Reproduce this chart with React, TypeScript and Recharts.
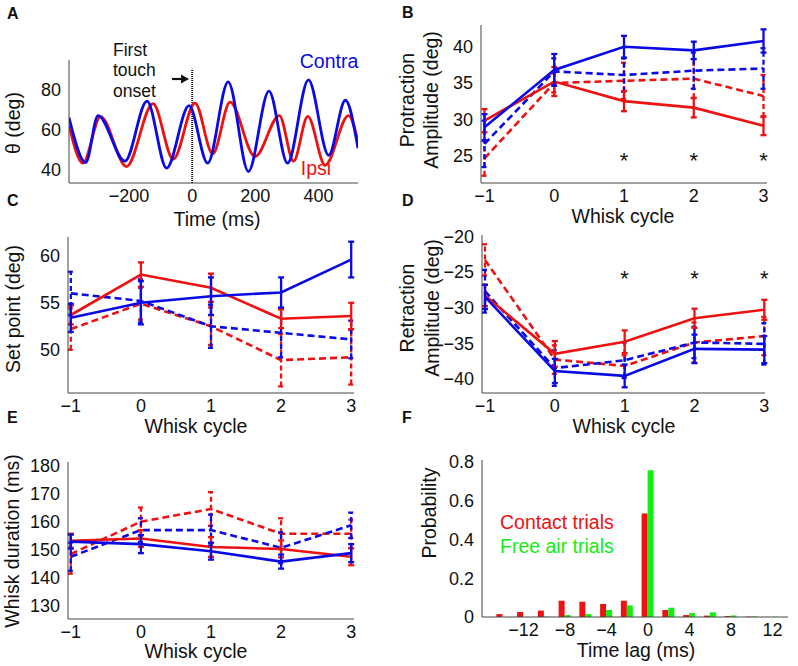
import React from 'react';
import {
  LineChart,
  Line,
  BarChart,
  Bar,
  XAxis,
  YAxis,
  ErrorBar,
  ReferenceLine,
  ReferenceDot
} from 'recharts';

// ---- A: whisker angle trace around first touch ----
const contraTime = [-390, -337, -298, -213, -143, -81, -10, 49, 114, 178, 243, 302, 368, 432, 485, 525];
const contraTheta = [66, 43.3, 67, 44, 74.3, 40.5, 72, 43, 84, 38.8, 79.3, 43, 85, 47, 74.7, 50.5];
const ipsiTime = [-390, -346, -290, -208, -124, -60, 9, 65, 120, 199, 276, 321, 366, 421, 495, 525];
const ipsiTheta = [62.2, 43, 66.5, 41.3, 73, 45, 73.3, 47.7, 73.8, 46.3, 67, 44, 66.6, 42, 67, 53.8];

// ---- B-E: per whisk cycle, mean and error ----
const cycles = [-1, 0, 1, 2, 3];

const protContraTouch = [28.9, 36.8, 40.0, 39.5, 40.8];
const protContraTouchErr = [1.8, 2.2, 1.5, 1.2, 1.6];
const protIpsiTouch = [29.8, 35.2, 32.5, 31.6, 29.1];
const protIpsiTouchErr = [1.6, 2.0, 1.4, 1.35, 1.3];
const protContraFree = [26.6, 36.6, 36.1, 36.7, 37.0];
const protContraFreeErr = [3.2, 1.8, 2.3, 2.5, 2.8];
const protIpsiFree = [24.6, 35.0, 35.3, 35.6, 33.2];
const protIpsiFreeErr = [2.4, 1.3, 2.5, 2.7, 2.9];

const setContraTouch = [53.4, 55.0, 55.7, 56.1, 59.6];
const setContraTouchErr = [1.5, 2.3, 2.0, 1.6, 1.9];
const setIpsiTouch = [53.7, 58.0, 56.6, 53.3, 53.6];
const setIpsiTouchErr = [1.0, 1.3, 1.5, 1.0, 1.4];
const setContraFree = [56.0, 55.2, 52.5, 51.8, 51.1];
const setContraFreeErr = [2.3, 2.3, 2.3, 2.6, 2.0];
const setIpsiFree = [52.2, 54.9, 52.5, 48.9, 49.2];
const setIpsiFreeErr = [2.2, 1.7, 2.0, 2.8, 2.9];

const retContraTouch = [-28.5, -38.9, -39.6, -35.8, -35.9];
const retContraTouchErr = [1.7, 1.7, 1.6, 2.0, 1.9];
const retIpsiTouch = [-28.3, -36.5, -34.8, -31.5, -30.3];
const retIpsiTouchErr = [1.5, 1.8, 1.6, 1.35, 1.4];
const retContraFree = [-27.7, -38.5, -37.4, -34.9, -35.1];
const retContraFreeErr = [3.0, 2.5, 2.5, 2.2, 2.9];
const retIpsiFree = [-23.3, -37.3, -38.2, -34.9, -34.0];
const retIpsiFreeErr = [2.2, 2.0, 1.5, 2.8, 2.7];

const durContraTouch = [152.9, 152.0, 149.5, 145.8, 148.8];
const durContraTouchErr = [2.5, 3.2, 3.0, 2.5, 3.2];
const durIpsiTouch = [153.2, 154.0, 151.0, 150.3, 147.5];
const durIpsiTouchErr = [2.5, 3.0, 3.5, 3.0, 3.0];
const durContraFree = [147.5, 157.0, 157.0, 150.7, 158.7];
const durContraFreeErr = [5.0, 4.2, 5.5, 5.5, 4.5];
const durIpsiFree = [148.5, 160.0, 164.5, 155.7, 155.7];
const durIpsiFreeErr = [7.0, 5.0, 6.0, 5.5, 5.0];

// significant cycles (asterisks)
const starCycles = [1, 2, 3];

// ---- F: time lag histogram ----
const lags = [-14, -12, -10, -8, -6, -4, -2, 0, 2, 4, 6, 8, 10, 12];
const contactProb = [0.015, 0.026, 0.033, 0.084, 0.079, 0.067, 0.084, 0.534, 0.036, 0.01, 0.007, 0.005, 0.002, 0];
const freeAirProb = [0, 0, 0.002, 0.01, 0.015, 0.036, 0.06, 0.757, 0.048, 0.02, 0.024, 0.008, 0.003, 0.001];

const BLUE = '#0a0ae6';
const RED = '#ee1111';
const GREEN = '#11ee11';
const AXIS = '#444';
const FONT = '"Liberation Sans", Arial, Helvetica, sans-serif';

const tickStyle = { fill: '#111', fontSize: 18, fontFamily: FONT };
const minus = (v: number) => (v < 0 ? `\u2212${-v}` : String(v));

const cycleRows = (s: Record<string, number[]>) =>
  cycles.map((cycle, i) => {
    const row: Record<string, number> = { cycle };
    Object.keys(s).forEach((k) => {
      row[k] = s[k][i];
    });
    return row;
  });

const protRows = cycleRows({
  cT: protContraTouch, cTErr: protContraTouchErr, iT: protIpsiTouch, iTErr: protIpsiTouchErr,
  cF: protContraFree, cFErr: protContraFreeErr, iF: protIpsiFree, iFErr: protIpsiFreeErr
});
const setRows = cycleRows({
  cT: setContraTouch, cTErr: setContraTouchErr, iT: setIpsiTouch, iTErr: setIpsiTouchErr,
  cF: setContraFree, cFErr: setContraFreeErr, iF: setIpsiFree, iFErr: setIpsiFreeErr
});
const retRows = cycleRows({
  cT: retContraTouch, cTErr: retContraTouchErr, iT: retIpsiTouch, iTErr: retIpsiTouchErr,
  cF: retContraFree, cFErr: retContraFreeErr, iF: retIpsiFree, iFErr: retIpsiFreeErr
});
const durRows = cycleRows({
  cT: durContraTouch, cTErr: durContraTouchErr, iT: durIpsiTouch, iTErr: durIpsiTouchErr,
  cF: durContraFree, cFErr: durContraFreeErr, iF: durIpsiFree, iFErr: durIpsiFreeErr
});

const contraRows = contraTime.map((t, i) => ({ t, theta: contraTheta[i] }));
const ipsiRows = ipsiTime.map((t, i) => ({ t, theta: ipsiTheta[i] }));
const lagRows = lags.map((lag, i) => ({ lag, contact: contactProb[i], freeAir: freeAirProb[i] }));

const series = [
  { key: 'iF', color: RED, dashed: true },
  { key: 'cF', color: BLUE, dashed: true },
  { key: 'iT', color: RED, dashed: false },
  { key: 'cT', color: BLUE, dashed: false }
];

// plot box (left, top, right, bottom) -> chart placement
const frame = (pl: number, pt: number, pr: number, pb: number) => ({
  left: pl - 60,
  top: pt - 10,
  width: pr - pl + 70,
  height: pb - pt + 50
});
const MARGIN = { top: 10, right: 10, left: 10, bottom: 10 };

const Text = ({ x, y, children, size = 19.5, color = '#111', rotate = false, bold = false, align = 'center' }: any) => (
  <div
    style={{
      position: 'absolute',
      left: x,
      top: y,
      transform: `translate(${align === 'left' ? '0' : '-50%'}, -50%)${rotate ? ' rotate(-90deg)' : ''}`,
      fontSize: size,
      fontWeight: bold ? 700 : 400,
      color,
      fontFamily: FONT,
      whiteSpace: 'nowrap',
      lineHeight: 0.8
    }}
  >
    {children}
  </div>
);

const CyclePanel = ({ box, rows, yDomain, yTicks, starY }: any) => {
  const f = frame(box[0], box[1], box[2], box[3]);
  return (
    <div style={{ position: 'absolute', left: f.left, top: f.top }}>
      <LineChart width={f.width} height={f.height} data={rows} margin={MARGIN}>
        <XAxis
          type="number"
          dataKey="cycle"
          domain={[box[4], box[5]]}
          ticks={cycles}
          tickFormatter={minus}
          tick={tickStyle}
          tickLine={false}
          tickMargin={0}
          axisLine={{ stroke: AXIS }}
          height={30}
          allowDataOverflow
        />
        <YAxis
          type="number"
          domain={yDomain}
          ticks={yTicks}
          tickFormatter={minus}
          tick={tickStyle}
          tickLine={false}
          axisLine={{ stroke: AXIS }}
          width={50}
          allowDataOverflow
        />
        {series.map((s) => (
          <Line
            key={s.key}
            dataKey={s.key}
            stroke={s.color}
            strokeWidth={2.6}
            strokeDasharray={s.dashed ? '7 4' : undefined}
            dot={false}
            isAnimationActive={false}
          >
            <ErrorBar
              dataKey={`${s.key}Err`}
              width={3}
              stroke={s.color}
              strokeWidth={2.3}
              strokeDasharray={s.dashed ? '5 3' : undefined}
            />
          </Line>
        ))}
        {starY !== undefined &&
          starCycles.map((c) => (
            <ReferenceDot
              key={c}
              x={c}
              y={starY}
              r={1}
              fill="none"
              stroke="none"
              label={{ value: '*', position: 'center', fontSize: 22, fill: '#111', fontFamily: FONT }}
            />
          ))}
      </LineChart>
    </div>
  );
};

const TracePanel = () => {
  const f = frame(69, 60, 358, 183);
  return (
    <div style={{ position: 'absolute', left: f.left, top: f.top }}>
      <LineChart width={f.width} height={f.height} margin={MARGIN}>
        <XAxis
          type="number"
          dataKey="t"
          domain={[-390, 525]}
          ticks={[-200, 0, 200, 400]}
          tickFormatter={minus}
          tick={tickStyle}
          tickLine={false}
          tickMargin={0}
          axisLine={{ stroke: AXIS }}
          height={30}
          allowDataOverflow
        />
        <YAxis
          type="number"
          domain={[33, 95]}
          ticks={[40, 60, 80]}
          tick={tickStyle}
          tickLine={false}
          axisLine={{ stroke: AXIS }}
          width={50}
          allowDataOverflow
        />
        <ReferenceLine
          segment={[{ x: 0, y: 33 }, { x: 0, y: 90.6 }]}
          stroke="#111"
          strokeWidth={2}
          strokeDasharray="1 1"
        />
        <Line data={ipsiRows} dataKey="theta" type="monotone" stroke={RED} strokeWidth={2.8} dot={false} isAnimationActive={false} />
        <Line data={contraRows} dataKey="theta" type="monotone" stroke={BLUE} strokeWidth={2.8} dot={false} isAnimationActive={false} />
      </LineChart>
    </div>
  );
};

const LagPanel = () => {
  const f = frame(482, 460, 788, 617);
  return (
    <div style={{ position: 'absolute', left: f.left, top: f.top }}>
      <BarChart width={f.width} height={f.height} data={lagRows} margin={MARGIN} barGap={0} barSize={6}>
        <XAxis
          type="number"
          dataKey="lag"
          domain={[-16, 13.5]}
          ticks={[-12, -8, -4, 0, 4, 8, 12]}
          tickFormatter={minus}
          tick={tickStyle}
          tickLine={false}
          tickMargin={0}
          axisLine={{ stroke: AXIS }}
          height={30}
          allowDataOverflow
        />
        <YAxis
          type="number"
          domain={[0, 0.81]}
          ticks={[0, 0.2, 0.4, 0.6, 0.8]}
          tick={tickStyle}
          tickLine={false}
          axisLine={{ stroke: AXIS }}
          width={50}
          allowDataOverflow
        />
        <Bar dataKey="contact" fill={RED} isAnimationActive={false} />
        <Bar dataKey="freeAir" fill={GREEN} isAnimationActive={false} />
      </BarChart>
    </div>
  );
};

export default function App() {
  return (
    <div style={{ position: 'absolute', left: 0, top: 0, width: 798, height: 666, background: '#fff', overflow: 'hidden' }}>
      <TracePanel />
      <CyclePanel box={[481, 25, 767, 183, -1.05, 3.05]} rows={protRows} yDomain={[21.2, 43]} yTicks={[25, 30, 35, 40]} starY={24.3} />
      <CyclePanel box={[68, 237, 354, 393, -1.04, 3.04]} rows={setRows} yDomain={[45.4, 62]} yTicks={[50, 55, 60]} />
      <CyclePanel box={[482, 235, 765, 393, -1.043, 3.01]} rows={retRows} yDomain={[-42, -19.8]} yTicks={[-40, -35, -30, -25, -20]} starY={-25.8} />
      <CyclePanel box={[68, 462, 354, 619, -1.04, 3.04]} rows={durRows} yDomain={[125.4, 181.2]} yTicks={[130, 140, 150, 160, 170, 180]} />
      <LagPanel />

      {/* panel letters */}
      <Text x={7} y={14} size={16} bold align="left">A</Text>
      <Text x={402} y={13} size={16} bold align="left">B</Text>
      <Text x={7} y={201} size={16} bold align="left">C</Text>
      <Text x={402} y={201} size={16} bold align="left">D</Text>
      <Text x={7} y={418} size={16} bold align="left">E</Text>
      <Text x={402} y={418} size={16} bold align="left">F</Text>

      {/* A annotations */}
      <Text x={14} y={123} rotate>θ (deg)</Text>
      <Text x={217} y={219.5}>Time (ms)</Text>
      <div
        style={{
          position: 'absolute',
          left: 113,
          top: 39.75,
          fontSize: 17.5,
          lineHeight: '20.5px',
          fontFamily: FONT,
          color: '#111'
        }}
      >
        First
        <br />
        touch
        <br />
        onset
      </div>
      <svg style={{ position: 'absolute', left: 172, top: 73 }} width={18} height={12}>
        <line x1={0} y1={6} x2={10} y2={6} stroke="#111" strokeWidth={2.2} />
        <polygon points="9,1.5 17,6 9,10.5" fill="#111" />
      </svg>
      <Text x={329} y={62} color={BLUE}>Contra</Text>
      <Text x={316} y={169} color={RED}>Ipsi</Text>

      {/* B */}
      <Text x={408} y={100} rotate>Protraction</Text>
      <Text x={432} y={100} rotate>Amplitude (deg)</Text>
      <Text x={623} y={217}>Whisk cycle</Text>

      {/* C */}
      <Text x={14} y={309} rotate>Set point (deg)</Text>
      <Text x={196} y={427}>Whisk cycle</Text>

      {/* D */}
      <Text x={408} y={308} rotate>Retraction</Text>
      <Text x={433} y={308} rotate>Amplitude (deg)</Text>
      <Text x={624} y={427}>Whisk cycle</Text>

      {/* E */}
      <Text x={13} y={541} rotate>Whisk duration (ms)</Text>
      <Text x={196} y={652}>Whisk cycle</Text>

      {/* F */}
      <Text x={430} y={513} rotate>Probability</Text>
      <Text x={636} y={651}>Time lag (ms)</Text>
      <Text x={500} y={523} color={RED} align="left">Contact trials</Text>
      <Text x={500} y={547} color={GREEN} align="left">Free air trials</Text>
    </div>
  );
}
